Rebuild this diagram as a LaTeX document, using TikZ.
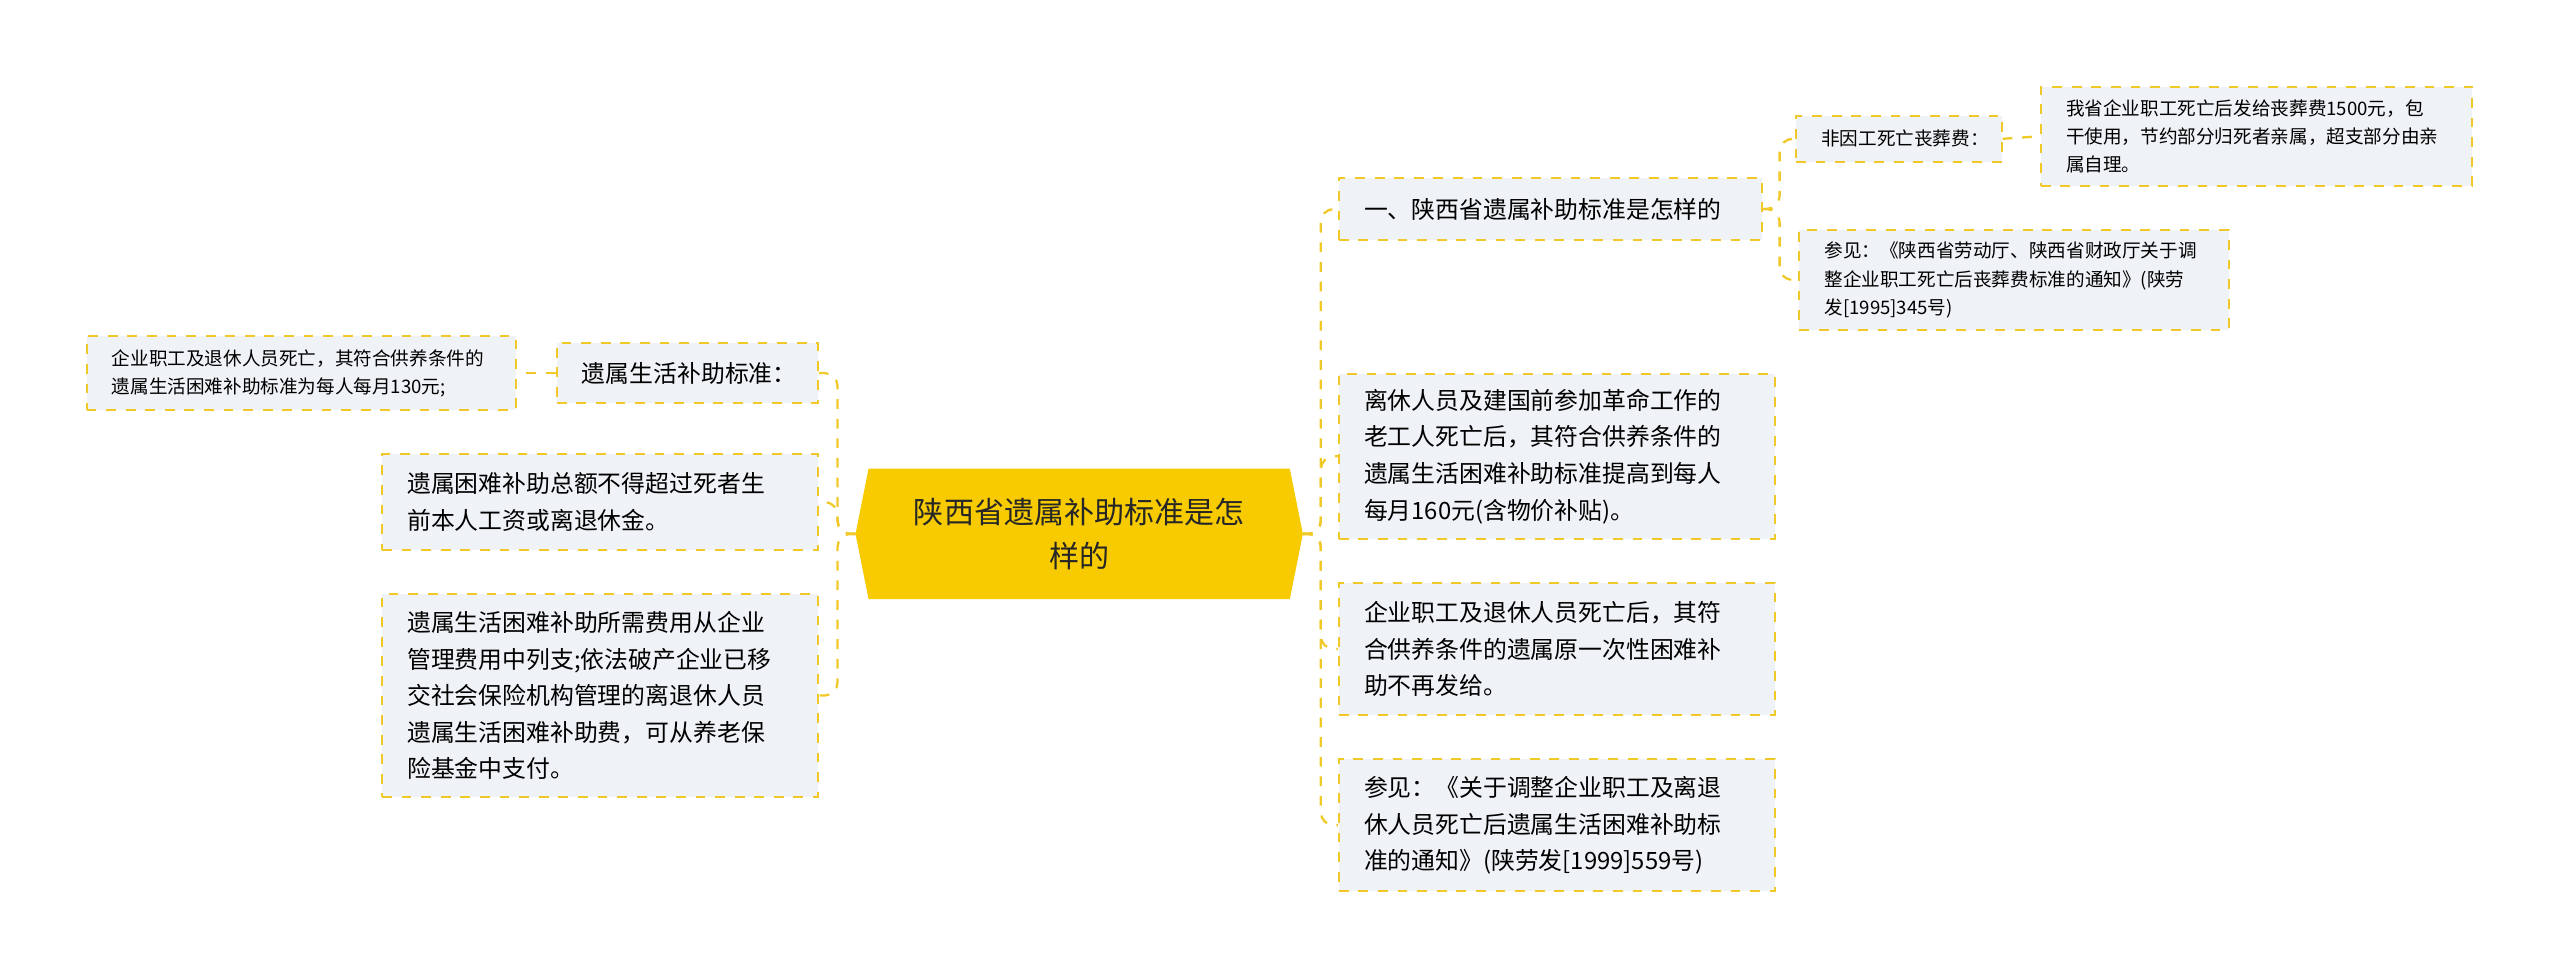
\documentclass[tikz,border=0pt]{standalone}
\usepackage{fontspec}
\setmainfont{Noto Sans CJK SC}
\begin{document}
\begin{tikzpicture}[x=0.5pt,y=-0.5pt,
  box/.style={draw=linec, dashed, line width=0.6pt, fill=boxfill, inner sep=0pt, text=black!85},
  conn/.style={draw=linec, dashed, line width=0.7pt, rounded corners=4pt},
  big/.style={font=\fontsize{7.3}{11.2}\selectfont, align=left},
  small/.style={font=\fontsize{5.7}{8.6}\selectfont, align=left}]
\definecolor{linec}{HTML}{F0C929}
\definecolor{boxfill}{HTML}{EFF2F6}
\definecolor{mainc}{HTML}{F7CB00}
\useasboundingbox (0,0) rectangle (1568,600);
% center
\fill[mainc] (524,327) -- (532,287) -- (790,287) -- (798,327) -- (790,367) -- (532,367) -- cycle;
\node[font=\fontsize{9.2}{13.5}\selectfont, align=center, text=black!85] (c) at (661,327) {陕西省遗属补助标准是怎\\样的};
\coordinate (ce) at (798,327);
\coordinate (cw) at (524,327);
% boxes
\newcommand{\bx}[6]{\node[box,minimum width={(#3-#2)*0.5pt},minimum height={(#5-#4)*0.5pt}] (#1) at ({(#2+#3)/2},{(#4+#5)/2}) {}; \node[#6, anchor=west] at (#1.west) [xshift=4.5pt]}
\bx{r1}{820}{1079}{109}{147}{big}{一、陕西省遗属补助标准是怎样的};
\bx{r1a}{1100}{1226}{71}{99}{small}{非因工死亡丧葬费：};
\bx{r1a1}{1250}{1514}{53}{114}{small}{我省企业职工死亡后发给丧葬费1500元，包\\干使用，节约部分归死者亲属，超支部分由亲\\属自理。};
\bx{r1b}{1102}{1365}{141}{202}{small}{参见：《陕西省劳动厅、陕西省财政厅关于调\\整企业职工死亡后丧葬费标准的通知》(陕劳\\发[1995]345号)};
\bx{r2}{820}{1087}{229}{330}{big}{离休人员及建国前参加革命工作的\\老工人死亡后，其符合供养条件的\\遗属生活困难补助标准提高到每人\\每月160元(含物价补贴)。};
\bx{r3}{820}{1087}{357}{438}{big}{企业职工及退休人员死亡后，其符\\合供养条件的遗属原一次性困难补\\助不再发给。};
\bx{r4}{820}{1087}{465}{546}{big}{参见：《关于调整企业职工及离退\\休人员死亡后遗属生活困难补助标\\准的通知》(陕劳发[1999]559号)};
\bx{l1}{341}{501}{210}{247}{big}{遗属生活补助标准：};
\bx{l1a}{53}{316}{206}{251}{small}{企业职工及退休人员死亡，其符合供养条件的\\遗属生活困难补助标准为每人每月130元;};
\bx{l2}{234}{501}{278}{337}{big}{遗属困难补助总额不得超过死者生\\前本人工资或离退休金。};
\bx{l3}{234}{501}{364}{488}{big}{遗属生活困难补助所需费用从企业\\管理费用中列支;依法破产企业已移\\交社会保险机构管理的离退休人员\\遗属生活困难补助费，可从养老保\\险基金中支付。};
% connectors
\foreach \n in {r1,r2,r3,r4} \draw[conn] (ce) -- (809,327) |- (\n.west);
\foreach \n in {l1,l2,l3} \draw[conn] (cw) -- (513,327) |- (\n.east);
\foreach \n in {r1a,r1b} \draw[conn] (r1.east) -- (1090,128) |- (\n.west);
\draw[conn] (r1a.east) -- (r1a1.west);
\draw[conn] (l1.west) -- (l1a.east);
\end{tikzpicture}
\end{document}
